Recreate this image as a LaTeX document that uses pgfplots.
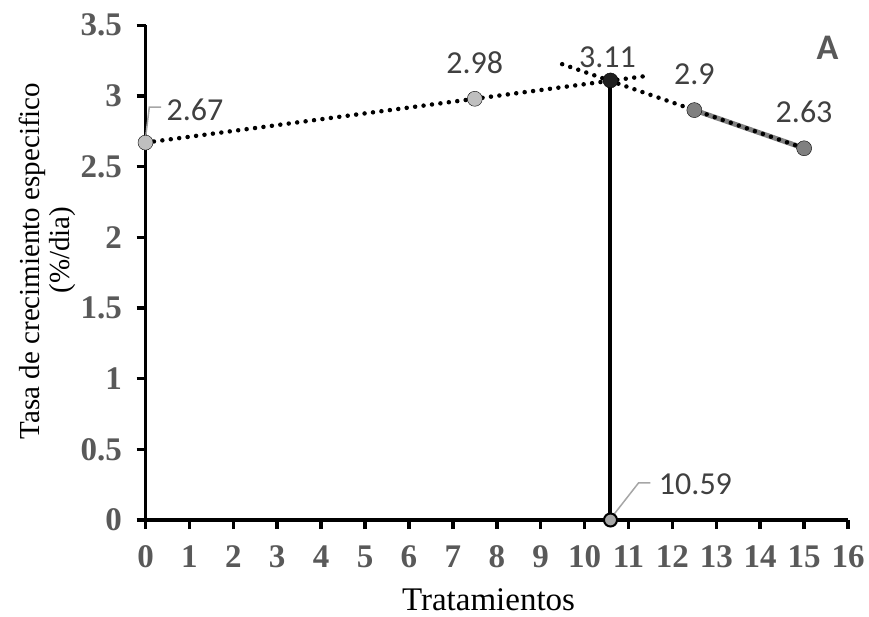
\documentclass[border=0pt]{standalone}
\usepackage{pgfplots}
\pgfplotsset{compat=1.18}
\usepackage{fontspec}
\setmainfont{Liberation Serif}
\newfontfamily\calibri{Carlito}
\definecolor{tickgray}{HTML}{595959}
\definecolor{labgray}{HTML}{404040}
\definecolor{lightpt}{HTML}{BFBFBF}
\definecolor{midpt}{HTML}{808080}
\definecolor{zeropt}{HTML}{A6A6A6}
\definecolor{leader}{HTML}{A6A6A6}
\begin{document}
\begin{tikzpicture}
\begin{axis}[
  at={(0,0)}, anchor=south west,
  scale only axis,
  width=702.5pt, height=494.7pt,
  xmin=0, xmax=16, ymin=0, ymax=3.5,
  axis x line*=bottom, axis y line*=left,
  axis line style={line width=3.5pt, black},
  every tick/.style={line width=3.5pt, black},
  tick align=outside, major tick length=9pt,
  xtick={0,1,...,16},
  ytick={0,0.5,1,1.5,2,2.5,3,3.5},
  yticklabels={0,0.5,1,1.5,2,2.5,3,3.5},
  tick label style={font=\fontsize{33}{33}\selectfont\bfseries, text=tickgray},
  xticklabel style={yshift=-13pt},
  yticklabel style={xshift=-11pt},
  /pgf/number format/assume math mode=true,
  clip=false,
]
% leader lines
\draw[leader, line width=1.5pt] ([shift={(-0.2pt,2.7pt)}]axis cs:0,2.67) -- ([shift={(3.8pt,35.4pt)}]axis cs:0,2.67) -- ([shift={(15.5pt,35.4pt)}]axis cs:0,2.67);
\draw[leader, line width=1.5pt] ([shift={(3pt,5pt)}]axis cs:10.59,0) -- ([shift={(28pt,37pt)}]axis cs:10.59,0) -- ([shift={(40pt,37pt)}]axis cs:10.59,0);
% grey series line
\addplot[midpt, line width=5pt, mark=none] coordinates {(12.5,2.9) (15,2.63)};
% vertical line
\addplot[black, line width=4pt, mark=none] coordinates {(10.59,0) (10.59,3.11)};
% markers
\addplot[only marks, mark=*, mark size=7.5pt, mark options={fill=lightpt, draw=none}] coordinates {(0,2.67) (7.5,2.98)};
\addplot[only marks, mark=*, mark size=7.5pt, mark options={fill=midpt, draw=none}] coordinates {(12.5,2.9) (15,2.63)};
\addplot[only marks, mark=*, mark size=7.5pt, mark options={fill=black!88, draw=none}] coordinates {(10.59,3.11)};
\addplot[only marks, mark=*, mark size=6.5pt, mark options={fill=zeropt, draw=black, line width=2pt}] coordinates {(10.59,0)};
% dotted trend lines
\addplot[black, line width=4.5pt, dash pattern=on 0pt off 8.5pt, line cap=round, mark=none] coordinates {(0,2.67) (11.42,3.142)};
\addplot[black, line width=4.5pt, dash pattern=on 0pt off 8.5pt, line cap=round, mark=none] coordinates {(9.49,3.225) (15,2.63)};
% data labels
\begin{scope}[every node/.style={font=\calibri\fontsize{32}{32}\selectfont, text=labgray, inner sep=0pt}]
\node at ([shift={(49.5pt,32.7pt)}]axis cs:0,2.67) {2.67};
\node at ([shift={(0pt,36pt)}]axis cs:7.5,2.98) {2.98};
\node at ([shift={(-3pt,23pt)}]axis cs:10.59,3.11) {3.11};
\node at ([shift={(0pt,36pt)}]axis cs:12.5,2.9) {2.9};
\node at ([shift={(0pt,36pt)}]axis cs:15,2.63) {2.63};
\node at ([shift={(85pt,36pt)}]axis cs:10.59,0) {10.59};
\end{scope}
\end{axis}
\node[font=\calibri\bfseries\fontsize{36}{36}\selectfont, text=tickgray] at (682pt,472pt) {A};
\node[rotate=90, font=\fontsize{29}{29}\selectfont] at (-113.5pt,259pt) {Tasa de crecimiento especifico};
\node[rotate=90, font=\fontsize{29}{29}\selectfont] at (-82.5pt,270pt) {(\%/dia)};
\node[font=\fontsize{33}{33}\selectfont, inner sep=0pt] at (343pt,-80pt) {Tratamientos};
\pgfresetboundingbox
\path (-145.5pt,-97pt) rectangle (723.5pt,520pt);
\end{tikzpicture}
\end{document}
